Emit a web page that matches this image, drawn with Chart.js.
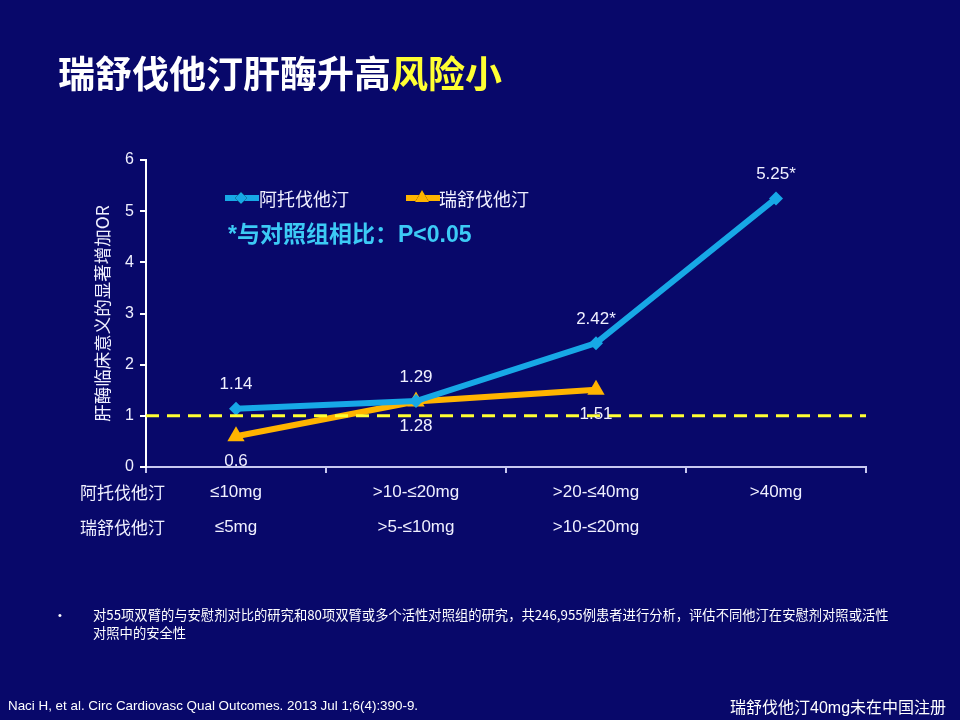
<!DOCTYPE html>
<html>
<head>
<meta charset="utf-8">
<script src="https://cdn.jsdelivr.net/npm/chart.js@4/dist/chart.umd.min.js"></script>
<style>
  html, body { margin: 0; padding: 0; }
  body { width: 960px; height: 720px; background: #08086a; position: relative; overflow: hidden;
         font-family: "Liberation Sans", Arial, "Noto Sans CJK SC", sans-serif; color: #fff; }
  #wrap { position: absolute; left: 0; top: 0; width: 960px; height: 720px; }
  .abs { position: absolute; white-space: nowrap; }
  #title { left: 58px; top: 50px; font-size: 37px; font-weight: bold; font-family: "Noto Sans CJK SC", sans-serif; line-height: 44px; }
  #title span { color: #ffff33; }
  .leg { font-family: "Noto Sans CJK SC", sans-serif; font-size: 18px; color: #f0f0ff; line-height: 20px; }
  #note { left: 228px; top: 221px; font-size: 23px; font-weight: bold; color: #3ccaf5; font-family: "Liberation Sans", Arial, "Noto Sans CJK SC", sans-serif; line-height: 26px; }
  .rowlab { font-family: "Noto Sans CJK SC", sans-serif; font-size: 17px; color: #f0f0ff; line-height: 20px; }
  #bullet { left: 58px; top: 606px; font-size: 11px; line-height: 18px; }
  #desc { left: 93px; top: 606px; font-size: 13.3px; line-height: 18px; font-family: "Noto Sans CJK SC", sans-serif; }
  #cite { left: 8px; top: 698px; font-size: 13.4px; }
  #reg { left: 730px; top: 694px; font-size: 16px; font-family: "Liberation Sans", Arial, "Noto Sans CJK SC", sans-serif; }
</style>
</head>
<body>
<div id="wrap"><canvas id="myChart"></canvas></div>

<div class="abs" id="title">瑞舒伐他汀肝酶升高<span>风险小</span></div>

<canvas id="legBlue" class="abs" width="34" height="20" style="left:225px;top:188px;"></canvas>
<div class="abs leg" style="left:259px;top:188px;">阿托伐他汀</div>
<canvas id="legOrange" class="abs" width="34" height="20" style="left:406px;top:188px;"></canvas>
<div class="abs leg" style="left:439px;top:188px;">瑞舒伐他汀</div>

<div class="abs" id="note">*与对照组相比：P&lt;0.05</div>

<div class="abs rowlab" style="left:80px;top:482px;">阿托伐他汀</div>
<div class="abs rowlab" style="left:80px;top:517px;">瑞舒伐他汀</div>

<div class="abs" id="bullet">•</div>
<div class="abs" id="desc">对55项双臂的与安慰剂对比的研究和80项双臂或多个活性对照组的研究，共246,955例患者进行分析，评估不同他汀在安慰剂对照或活性<br>对照中的安全性</div>
<div class="abs" id="cite">Naci H, et al. Circ Cardiovasc Qual Outcomes. 2013 Jul 1;6(4):390-9.</div>
<div class="abs" id="reg">瑞舒伐他汀40mg未在中国注册</div>

<script>
// 데이터
const atorvaDoses = ['≤10mg', '>10-≤20mg', '>20-≤40mg', '>40mg'];
const rosuvaDoses = ['≤5mg', '>5-≤10mg', '>10-≤20mg', ''];
const atorvaOR = [1.14, 1.29, 2.42, 5.25];
const rosuvaOR = [0.6, 1.28, 1.51, null];
const atorvaLabels = ['1.14', '1.29', '2.42*', '5.25*'];
const rosuvaLabels = ['0.6', '1.28', '1.51', ''];
const yTicks = [0, 1, 2, 3, 4, 5, 6];
const refLine = [1];

const BLUE = '#17a8e6';
const ORANGE = '#ffb400';

// x축 라벨은 두 줄 (아토르바 / 로수바)
const xLabels = atorvaDoses.map(function(d, i){ return [d, rosuvaDoses[i]]; });

// 기준선 (OR=1) 점선
const refLinePlugin = {
  id: 'refLine',
  afterDatasetsDraw(chart) {
    const ctx = chart.ctx, area = chart.chartArea, y = chart.scales.y;
    ctx.save();
    ctx.strokeStyle = '#ffff33';
    ctx.lineWidth = 3;
    ctx.setLineDash([13, 8]);
    refLine.forEach(function(v){
      const py = y.getPixelForValue(v);
      ctx.beginPath();
      ctx.moveTo(area.left, py);
      ctx.lineTo(area.right, py);
      ctx.stroke();
    });
    ctx.restore();
  }
};

// 값 라벨
const valueLabelPlugin = {
  id: 'valueLabels',
  afterDraw(chart) {
    const ctx = chart.ctx;
    ctx.save();
    ctx.font = '17px "Liberation Sans", Arial, sans-serif';
    ctx.fillStyle = '#f0f0ff';
    ctx.textAlign = 'center';
    ctx.textBaseline = 'middle';
    chart.getDatasetMeta(0).data.forEach(function(pt, i){
      ctx.fillText(atorvaLabels[i], pt.x, pt.y - 24);
    });
    chart.getDatasetMeta(1).data.forEach(function(pt, i){
      if (rosuvaOR[i] == null) return;
      ctx.fillText(rosuvaLabels[i], pt.x, pt.y + 25);
    });
    ctx.restore();
  }
};

const data1 = {
  labels: xLabels,
  datasets: [
    {
      label: '阿托伐他汀',
      data: atorvaOR,
      borderColor: BLUE,
      backgroundColor: BLUE,
      borderWidth: 6,
      pointStyle: 'rectRot',
      pointRadius: 7,
      pointBorderWidth: 0,
      tension: 0
    },
    {
      label: '瑞舒伐他汀',
      data: rosuvaOR,
      borderColor: ORANGE,
      backgroundColor: ORANGE,
      borderWidth: 6,
      pointStyle: 'triangle',
      pointRadius: 10,
      pointBorderWidth: 0,
      tension: 0
    }
  ]
};

const config1 = {
  type: 'line',
  data: data1,
  options: {
    responsive: false,
    animation: false,
    devicePixelRatio: 1,
    layout: { padding: { left: 92, right: 94, top: 160, bottom: 163 } },
    plugins: {
      legend: { display: false },
      tooltip: { enabled: false }
    },
    scales: {
      x: {
        offset: true,
        afterFit: function(s){ s.height = 90; },
        grid: { drawOnChartArea: false, drawTicks: true, tickLength: 6, color: '#c8c8f0', lineWidth: 2, offset: true },
        border: { color: '#c8c8f0', width: 2 },
        ticks: {
          color: '#f0f0ff',
          padding: 2,
          maxRotation: 0,
          autoSkip: false,
          font: { size: 17, family: '"Liberation Sans", Arial, sans-serif', lineHeight: 2.06 }
        }
      },
      y: {
        min: 0,
        max: 6,
        afterFit: function(s){ s.width = 54; },
        afterBuildTicks: function(s){ s.ticks = yTicks.map(function(v){ return { value: v }; }); },
        grid: { drawOnChartArea: false, drawTicks: true, tickLength: 6, color: '#ffffff', lineWidth: 2 },
        border: { color: '#ffffff', width: 2 },
        ticks: {
          color: '#f0f0ff',
          padding: 6,
          font: { size: 16, family: '"Liberation Sans", Arial, sans-serif' }
        },
        title: {
          display: true,
          text: '肝酶临床意义的显著增加OR',
          color: '#f0f0ff',
          padding: 0,
          font: { size: 17.5, family: '"Noto Sans CJK SC", sans-serif' }
        }
      }
    }
  },
  plugins: [refLinePlugin, valueLabelPlugin]
};

const cv = document.getElementById('myChart');
cv.width = 960; cv.height = 720;
const myChart1 = new Chart(cv, config1);

// 범례 아이콘
function drawLegendIcon(id, color, style) {
  const c = document.getElementById(id).getContext('2d');
  c.strokeStyle = color;
  c.lineWidth = 6;
  c.beginPath(); c.moveTo(0, 10); c.lineTo(34, 10); c.stroke();
  Chart.helpers.drawPoint(c, { pointStyle: style, radius: style === 'triangle' ? 8 : 6, borderWidth: 0 }, 16, 10);
  c.fillStyle = color;
  c.fill();
}
drawLegendIcon('legBlue', BLUE, 'rectRot');
drawLegendIcon('legOrange', ORANGE, 'triangle');
</script>
</body>
</html>
